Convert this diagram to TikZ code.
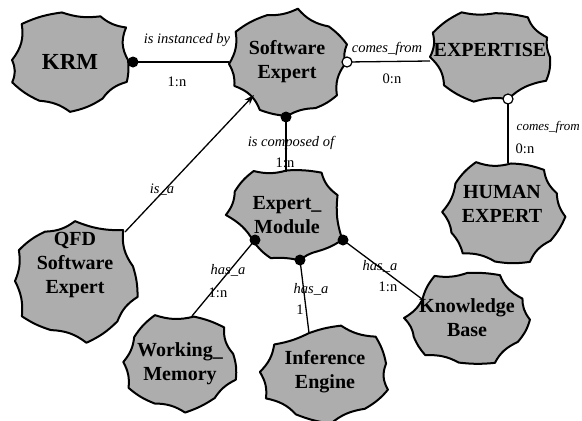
\documentclass[tikz,border=0pt]{standalone}
\usepackage{fontspec}
\setmainfont{Liberation Serif}
\usetikzlibrary{arrows.meta}
\definecolor{cloudgray}{gray}{0.68}
\tikzset{
  cloud/.style={draw=black, line width=2pt, fill=cloudgray, line join=round},
  cloudtext/.style={font=\fontsize{20}{24}\selectfont\bfseries, align=center, inner sep=0pt},
  rel/.style={font=\fontsize{14.5}{16}\selectfont\itshape, inner sep=1pt},
  card/.style={font=\fontsize{14.5}{16}\selectfont, inner sep=1pt},
  link/.style={line width=1.3pt},
  fulldot/.style={fill=black},
  opendot/.style={draw=black, fill=white, line width=1.2pt},
  isa/.style={link, -{Stealth[length=10pt,width=7pt]}},
}
% amorphous class outline: centre, x radius, y radius, start angle/radius,
% then corners as angle/radius/bend (positive bend = concave side)
\newcommand\cloudpath[5]{%
  \begin{scope}[shift={#1}, xscale=#2, yscale=#3]
    \path[cloud] (#4) foreach \a/\r/\b in {#5} { to[bend right=\b] (\a:\r) } -- cycle;
  \end{scope}}
\begin{document}
\begin{tikzpicture}[x=1pt,y=-1pt]
\useasboundingbox (0,0) rectangle (582,421);

% class outlines
\cloudpath{(70,60)}{58}{48}{180:1.0}{222/1.12/20, 262/1.0/-10, 300/1.05/15, 325/1.18/18, 360/1.0/22, 385/1.08/-8, 415/0.98/20, 450/1.08/-12, 482/1.0/18, 515/1.1/-10, 540/1.0/20}
\cloudpath{(287,64)}{58}{52}{180:1.0}{215/1.08/18, 250/1.0/-10, 280/1.08/15, 315/1.02/20, 340/1.1/-8, 360/1.0/15, 395/1.05/20, 420/0.98/-10, 450/1.0/15, 478/1.0/-8, 515/1.0/25, 540/1.0/15}
\cloudpath{(490,57)}{60}{44}{180:1.0}{210/1.1/15, 245/1.12/-10, 275/1.0/15, 305/1.1/-8, 335/1.05/20, 360/1.0/12, 390/1.08/-10, 432/1.0/20, 465/1.05/15, 500/1.0/-10, 540/1.0/18}
\cloudpath{(503,212)}{58}{50}{180:1.05}{215/1.0/15, 245/1.1/-10, 278/0.98/20, 310/1.1/-10, 338/1.0/18, 365/1.08/15, 395/1.0/-8, 425/1.1/20, 458/1.0/-10, 490/1.08/18, 515/0.98/12, 540/1.05/15}
\cloudpath{(285,215)}{58}{47}{180:1.02}{210/1.0/15, 240/1.08/-10, 272/0.95/18, 305/1.1/-8, 335/1.0/18, 388/1.12/10, 415/0.95/-10, 435/1.0/15, 465/0.95/10, 494/0.78/-10, 540/1.02/15}
\cloudpath{(75,281)}{60}{57}{180:1.0}{210/1.08/15, 240/1.0/-10, 270/1.05/18, 312/1.2/12, 345/1.0/20, 375/1.08/-8, 405/1.0/18, 440/1.1/-10, 475/0.95/18, 505/1.08/-8, 540/1.0/15}
\cloudpath{(180,362)}{54}{47}{180:1.05}{212/1.0/15, 245/1.1/-10, 285/1.0/18, 318/1.1/-8, 350/1.0/20, 380/1.1/-10, 410/1.0/15, 445/1.08/-8, 478/1.0/18, 510/1.1/-10, 540/1.05/15}
\cloudpath{(325,372)}{62}{48}{180:1.05}{215/1.0/15, 252/0.85/10, 285/1.0/-8, 318/1.1/18, 350/1.0/-8, 380/1.08/20, 410/1.0/-10, 445/1.08/18, 478/1.0/-8, 510/1.1/20, 540/1.05/15}
\cloudpath{(467,318)}{60}{45}{180:1.05}{209/0.85/15, 240/1.08/-10, 270/1.0/18, 300/1.1/-8, 335/1.02/20, 362/1.05/15, 392/1.0/-10, 425/1.1/18, 458/1.0/-8, 490/1.08/20, 515/0.98/-8, 540/1.05/15}

% class names
\node[cloudtext, font=\fontsize{23}{26}\selectfont\bfseries] (krm) at (70,62) {KRM};
\node[cloudtext] (se) at (287,62) {Software\\Expert};
\node[cloudtext] (ex) at (490,50) {EXPERTISE};
\node[cloudtext] (he) at (502,204) {HUMAN\\EXPERT};
\node[cloudtext] (em) at (287,215) {Expert\_\\Module};
\node[cloudtext] (qfd) at (75,265) {QFD\\Software\\Expert};
\node[cloudtext] (wm) at (180,364) {Working\_\\Memory};
\node[cloudtext] (ie) at (325,372) {Inference\\Engine};
\node[cloudtext] (kb) at (467,318) {Knowledge\\Base};

% attachment points on the outlines
\coordinate (krm-p) at (133,62);
\coordinate (se-w) at (229,62);
\coordinate (se-p) at (347,62);
\coordinate (ex-w) at (430,61);
\coordinate (ex-p) at (508,99);
\coordinate (he-n) at (508,163);
\coordinate (se-s) at (286,117);
\coordinate (em-n) at (286,172);
\coordinate (qfd-ne) at (125,232);
\coordinate (se-sw) at (254,95);
\coordinate (em-pw) at (255,240);
\coordinate (wm-ne) at (192,316);
\coordinate (em-ps) at (300,260);
\coordinate (ie-n) at (309,333);
\coordinate (em-pe) at (343,240);
\coordinate (kb-w) at (422,299);

% relationships
\draw[link] (krm-p) -- (se-w);
\draw[link] (se-p) -- (ex-w);
\draw[link] (ex-p) -- (he-n);
\draw[link] (se-s) -- (em-n);
\draw[isa] (qfd-ne) -- (se-sw);
\draw[link] (em-pw) -- (wm-ne);
\draw[link] (em-ps) -- (ie-n);
\draw[link] (em-pe) -- (kb-w);

\fill[fulldot] (krm-p) circle (5.5);
\fill[fulldot] (se-s) circle (5.5);
\fill[fulldot] (em-pw) circle (5.5);
\fill[fulldot] (em-ps) circle (5.5);
\fill[fulldot] (em-pe) circle (5.5);
\path[opendot] (se-p) circle (5);
\path[opendot] (ex-p) circle (5);

% relationship labels
\node[rel] (l1) at (187,40) {is instanced by};
\node[card] (c1) at (177,82) {1:n};
\node[rel] (l2) at (387,49) {comes\_from};
\node[card] (c2) at (392,79) {0:n};
\node[rel, font=\fontsize{13}{15}\selectfont\itshape, anchor=east] (l3) at (581,127) {comes\_from};
\node[card] (c3) at (525,149) {0:n};
\node[rel] (l4) at (291,143) {is composed of};
\node[card] (c4) at (285,163) {1:n};
\node[rel] (l5) at (162,190) {is\_a};
\node[rel] (l6) at (228,270) {has\_a};
\node[card] (c6) at (218,293) {1:n};
\node[rel] (l7) at (311,289) {has\_a};
\node[card] (c7) at (300,310) {1};
\node[rel] (l8) at (380,266) {has\_a};
\node[card] (c8) at (388,287) {1:n};
\end{tikzpicture}
\end{document}
